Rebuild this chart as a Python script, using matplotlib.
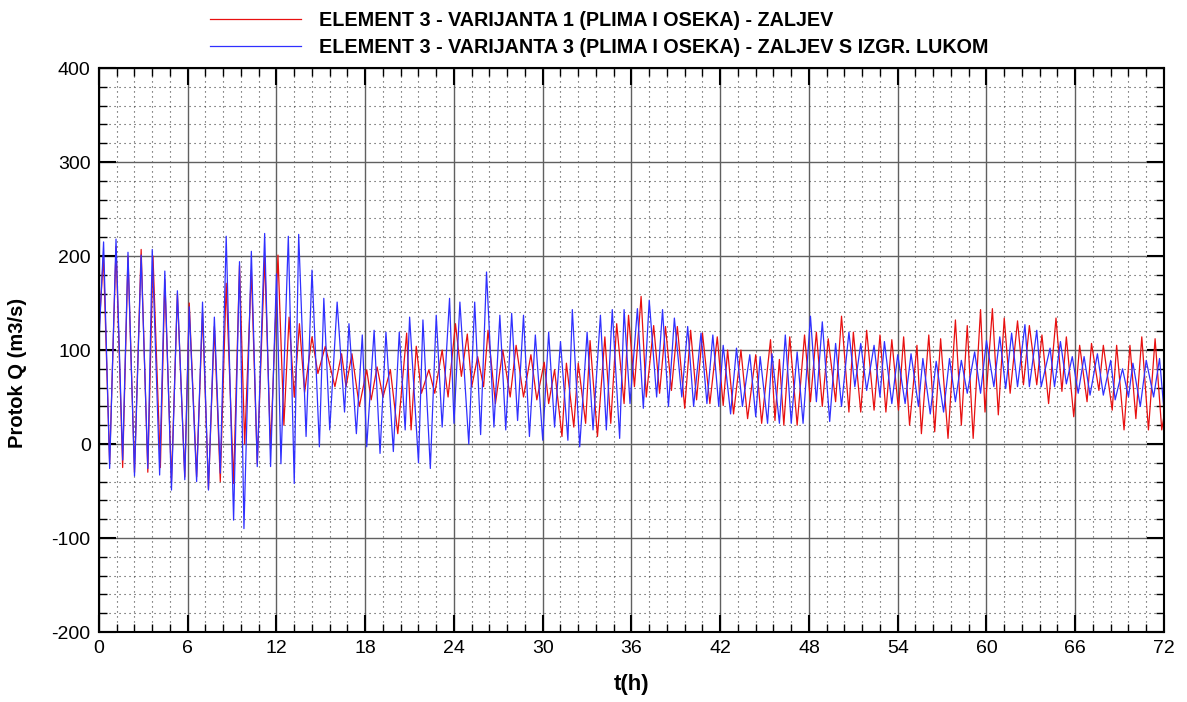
import numpy as np
import matplotlib
matplotlib.use("Agg")
import matplotlib.pyplot as plt
from matplotlib.ticker import MultipleLocator

# vrijednosti ocitane sa slike (ekstremi oscilacija), t u satima, Q u m3/s
t_var1 = [0.0, 0.3, 0.72, 1.15, 1.6, 1.96, 2.4, 2.85, 3.3, 3.65, 4.15, 4.45, 4.9, 5.3, 5.8, 6.1,
          6.6, 7.0, 7.4, 7.8, 8.2, 8.6, 9.1, 9.5, 9.85, 10.3, 10.7, 11.2, 11.6, 12.1, 12.5, 12.85,
          13.2, 13.55, 13.9, 14.4, 14.8, 15.3, 15.95, 16.4, 16.7, 17.1, 17.6, 18.1, 18.4, 18.8,
          19.2, 19.7, 20.2, 20.8, 21.1, 21.45, 21.8, 22.3, 22.7, 23.2, 23.6, 24.1, 24.5, 24.9,
          25.2, 25.6, 26.0, 26.3, 26.8, 27.3, 27.8, 28.2, 28.7, 29.2, 29.6, 30.1, 30.4, 30.8,
          31.3, 31.6, 32.1, 32.4, 32.9, 33.2, 33.7, 34.2, 34.6, 35.0, 35.5, 35.8, 36.2, 36.65,
          37.0, 37.5, 37.9, 38.3, 38.7, 39.1, 39.6, 40.0, 40.4, 40.8, 41.3, 41.8, 42.2, 42.5,
          42.9, 43.4, 43.85, 44.4, 44.8, 45.4, 45.7, 46.0, 46.3, 46.7, 47.2, 47.7, 48.1, 48.5,
          48.9, 49.3, 49.8, 50.2, 50.7, 51.0, 51.5, 51.9, 52.4, 52.8, 53.2, 53.6, 54.05, 54.4,
          54.8, 55.3, 55.6, 56.1, 56.5, 56.9, 57.4, 57.9, 58.3, 58.7, 59.1, 59.6, 59.9, 60.4,
          60.8, 61.2, 61.6, 62.1, 62.5, 62.9, 63.4, 63.75, 64.2, 64.7, 65.1, 65.4, 65.9, 66.3,
          66.8, 67.1, 67.6, 67.9, 68.5, 68.8, 69.3, 69.7, 70.1, 70.5, 70.95, 71.4, 71.85, 72.0]
q_var1 = [120, 200, -20, 210, -25, 200, -30, 207, -30, 200, -25, 175, -40, 160, -35, 150,
          -35, 140, -48, 125, -40, 171, -42, 190, 0, 185, -21, 199, -5, 201, 20, 135,
          50, 128, 55, 114, 75, 104, 61, 96, 61, 96, 40, 79, 47, 82,
          50, 79, 11, 118, 15, 104, 54, 79, 54, 100, 50, 128, 72, 117,
          61, 93, 61, 121, 43, 100, 50, 105, 50, 95, 47, 87, 43, 79,
          8, 86, 18, 86, 22, 110, 8, 114, 22, 128, 43, 137, 61, 157,
          50, 126, 54, 125, 57, 125, 38, 121, 47, 118, 43, 114, 41, 100,
          32, 100, 27, 95, 22, 111, 25, 90, 20, 114, 20, 116, 45, 119,
          40, 112, 45, 136, 34, 119, 34, 121, 36, 116, 34, 111, 36, 114,
          20, 105, 11, 116, 13, 112, 6, 132, 20, 126, 6, 143, 34, 144,
          31, 134, 54, 131, 63, 126, 63, 116, 43, 134, 56, 114, 29, 105,
          45, 107, 57, 105, 36, 105, 15, 105, 27, 114, 15, 112, 15, 30]

t_var3 = [0.0, 0.31, 0.72, 1.15, 1.6, 1.96, 2.4, 2.85, 3.3, 3.6, 4.1, 4.45, 4.9, 5.3, 5.8, 6.1,
          6.6, 7.0, 7.4, 7.8, 8.2, 8.6, 9.1, 9.5, 9.8, 10.3, 10.7, 11.2, 11.6, 12.0, 12.3, 12.8,
          13.2, 13.5, 14.0, 14.4, 14.9, 15.2, 15.6, 16.1, 16.6, 16.9, 17.4, 17.8, 18.1, 18.6,
          19.0, 19.4, 19.9, 20.3, 20.7, 21.0, 21.6, 21.9, 22.4, 22.8, 23.2, 23.7, 24.0, 24.4,
          25.0, 25.4, 25.8, 26.2, 26.7, 27.1, 27.5, 27.9, 28.3, 28.7, 29.1, 29.5, 30.0, 30.4,
          30.8, 31.2, 31.7, 32.0, 32.5, 33.0, 33.4, 33.9, 34.3, 34.7, 35.2, 35.5, 35.9, 36.4,
          36.8, 37.2, 37.7, 38.1, 38.5, 38.9, 39.4, 39.8, 40.2, 40.7, 41.1, 41.5, 41.9, 42.2,
          42.7, 43.1, 43.5, 44.0, 44.4, 44.7, 45.2, 45.5, 46.0, 46.4, 46.8, 47.2, 47.6, 48.1,
          48.5, 48.9, 49.4, 49.8, 50.2, 50.7, 51.1, 51.5, 51.9, 52.4, 52.8, 53.1, 53.6, 54.0,
          54.5, 54.9, 55.4, 55.7, 56.2, 56.6, 57.1, 57.5, 57.9, 58.3, 58.7, 59.2, 59.6, 60.0,
          60.5, 60.9, 61.3, 61.7, 62.1, 62.6, 62.9, 63.4, 63.7, 64.3, 64.6, 65.0, 65.4, 65.8,
          66.2, 66.6, 67.0, 67.5, 67.9, 68.4, 68.7, 69.2, 69.6, 69.9, 70.4, 70.8, 71.3, 71.7, 72.0]
q_var3 = [110, 215, -26, 218, -17, 204, -34, 201, -26, 207, -33, 184, -49, 163, -38, 146,
          -40, 151, -49, 135, -31, 221, -81, 194, -90, 205, -24, 224, -24, 181, -21, 221,
          -42, 223, 8, 185, -3, 155, 15, 151, 34, 128, 11, 116, -3, 121,
          -10, 119, -8, 119, 15, 135, -20, 132, -26, 137, 18, 155, 22, 151,
          0, 151, 10, 183, 18, 137, 15, 139, 25, 137, 8, 116, 4, 119,
          18, 109, 4, 143, -3, 119, 15, 137, 15, 143, 6, 143, 43, 144,
          38, 153, 50, 143, 40, 134, 50, 125, 40, 118, 43, 116, 40, 105,
          32, 102, 40, 95, 29, 93, 22, 96, 22, 116, 22, 98, 22, 136,
          45, 130, 24, 107, 40, 119, 61, 107, 57, 105, 50, 109, 43, 95,
          43, 96, 40, 91, 32, 88, 34, 91, 45, 89, 54, 98, 54, 110,
          61, 114, 59, 118, 61, 127, 61, 121, 61, 102, 61, 109, 64, 93,
          54, 93, 52, 96, 52, 89, 47, 80, 50, 86, 40, 89, 50, 91, 36]

label_var1 = "ELEMENT 3 - VARIJANTA 1 (PLIMA I OSEKA) - ZALJEV"
label_var3 = "ELEMENT 3 - VARIJANTA 3 (PLIMA I OSEKA) - ZALJEV S IZGR. LUKOM"

plt.rcParams['font.family'] = ['Liberation Sans', 'DejaVu Sans']
plt.rcParams['axes.unicode_minus'] = False

fig = plt.figure(figsize=(11.87, 7.02), dpi=100)
ax = fig.add_axes([0.0834, 0.0997, 0.8972, 0.8034])

l1, = ax.plot(t_var1, q_var1, color='#e81010', linewidth=0.9, label=label_var1)
l3, = ax.plot(t_var3, q_var3, color='#3030ff', linewidth=0.9, label=label_var3)

ax.set_xlim(0, 72)
ax.set_ylim(-200, 400)
ax.xaxis.set_major_locator(MultipleLocator(6))
ax.xaxis.set_minor_locator(MultipleLocator(1.2))
ax.yaxis.set_major_locator(MultipleLocator(100))
ax.yaxis.set_minor_locator(MultipleLocator(20))

ax.grid(which='major', color='#606060', linewidth=1.0, linestyle='-')
ax.grid(which='minor', color='#404040', linewidth=0.8, linestyle=(0, (1, 3.5)))
ax.set_axisbelow(True)

ax.tick_params(which='both', direction='in', top=True, right=True, labelsize=14, pad=6)
ax.tick_params(which='major', length=12, width=1.5)
ax.tick_params(which='minor', length=6, width=1.0)
for sp in ax.spines.values():
    sp.set_linewidth(1.5)

ax.set_xlabel('t(h)', fontsize=16, fontweight='bold', labelpad=12)
ax.set_ylabel('Protok Q (m3/s)', fontsize=14.5, fontweight='bold')
ax.yaxis.set_label_coords(-0.068, 0.46)

fig.legend(handles=[l1, l3], loc='upper left', bbox_to_anchor=(0.162, 1.01), frameon=False,
           prop={'weight': 'bold', 'size': 14.2}, handlelength=4.6, handletextpad=0.9,
           labelspacing=0.4)

fig.savefig('out.png', dpi=100)
